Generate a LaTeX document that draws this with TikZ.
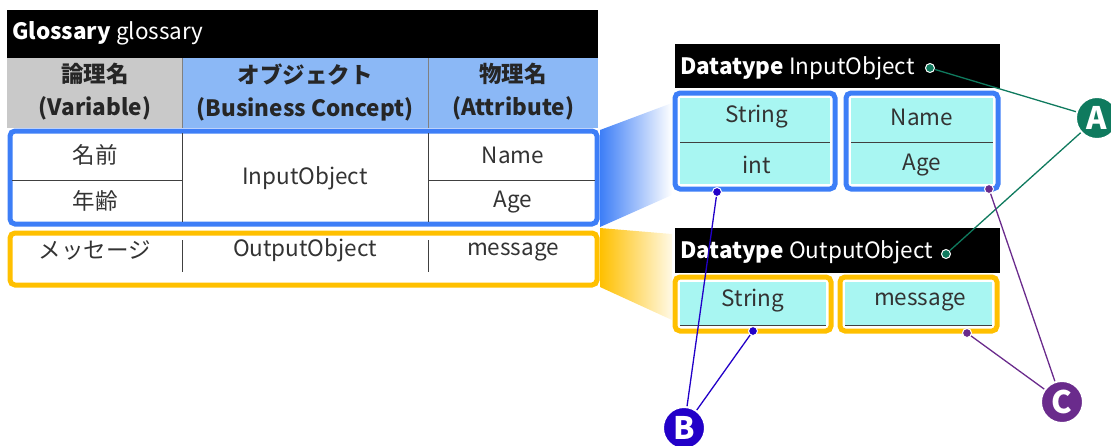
\documentclass[tikz,border=0pt]{standalone}
\usepackage{fontspec}
\setmainfont{Noto Sans CJK JP}
\usetikzlibrary{positioning}
\definecolor{boxblue}{HTML}{3D7EF7}
\definecolor{boxorange}{HTML}{FFC000}
\definecolor{fieldcyan}{HTML}{A8F6F2}
\definecolor{headgray}{HTML}{C9C9C9}
\definecolor{headblue}{HTML}{8BB8F6}
\definecolor{markgreen}{HTML}{0F7A5E}
\definecolor{markblue}{HTML}{2200C8}
\definecolor{markpurple}{HTML}{6A2B8C}

\begin{document}
\begin{tikzpicture}[x=1pt, y=-1pt,
    cell/.style={font=\fontsize{22.5}{24}\selectfont, text=black!80, inner sep=0pt},
    head/.style={font=\fontsize{22.5}{33}\selectfont\bfseries, align=center, inner sep=0pt, text=black!85},
    title/.style={font=\fontsize{22.5}{24}\selectfont, text=white, anchor=west, inner sep=0pt},
    frameblue/.style={draw=boxblue, line width=5pt, rounded corners=5pt, fill=white},
    frameorange/.style={draw=boxorange, line width=5pt, rounded corners=5pt, fill=white},
    rule/.style={draw=black!75, line width=1pt},
    dot/.style={circle, inner sep=0pt, minimum size=9pt, draw=white, line width=1pt},
    badge/.style={circle, minimum size=42pt, inner sep=0pt, draw=white, line width=2pt, text=white, font=\fontsize{31}{31}\selectfont\bfseries},
    link/.style={line width=1.3pt}
]
\useasboundingbox (0,0) rectangle (1111,445);

\shade[left color=boxblue, right color=white] (600,130) -- (672,103) -- (672,195) -- (600,227) -- cycle;
\shade[left color=boxorange, right color=boxorange!10] (600,228) -- (672,234) -- (672,320) -- (600,287) -- cycle;

\fill[black] (7,10) rectangle (598,58);
\node[title] (gtitle) at (12,33) {\textbf{Glossary} glossary};
\fill[headgray] (7,58) rectangle (182,128);
\fill[headblue] (182,58) rectangle (598,128);
\draw[rule, black!50] (182,58) -- (182,128) (428,58) -- (428,128);
\node[head] (hvar) at (95,92) {論理名\\(Variable)};
\node[head] (hobj) at (305,92) {オブジェクト\\(Business Concept)};
\node[head] (hattr) at (513,92) {物理名\\(Attribute)};

\draw[frameblue] (10,131) rectangle (597,224);
\draw[rule] (12,180) -- (182,180) (428,180) -- (595,180);
\draw[rule] (182,133) -- (182,222) (428,133) -- (428,222);
\node[cell] (lname) at (95,155) {名前};
\node[cell] (lage) at (95,201) {年齢};
\node[cell] (inobj) at (305,178) {InputObject};
\node[cell] (pname) at (513,155) {Name};
\node[cell] (page) at (513,202) {Age};

\draw[frameorange] (10,233) rectangle (597,285);
\draw[rule] (182,240) -- (182,272) (428,240) -- (428,272);
\node[cell] (lmsg) at (95,250) {メッセージ};
\node[cell] (outobj) at (305,250) {OutputObject};
\node[cell] (pmsg) at (513,252) {message};

\fill[black] (675,44) rectangle (1000,88);
\node[title] (intitle) at (680,68) {\textbf{Datatype} InputObject};
\draw[frameblue] (675,93) rectangle (835,189);
\fill[fieldcyan] (680,98) rectangle (830,184);
\draw[rule] (680,142) -- (830,142);
\draw[frameblue] (846,93) rectangle (998,189);
\fill[fieldcyan] (851,98) rectangle (993,184);
\draw[rule] (851,142) -- (993,142);
\node[cell] (intype1) at (757,117) {String};
\node[cell] (intype2) at (757,165) {int};
\node[cell] (inattr1) at (922,117) {Name};
\node[cell] (inattr2) at (922,165) {Age};

\fill[black] (675,228) rectangle (1000,273);
\node[title] (outtitle) at (680,252) {\textbf{Datatype} OutputObject};
\draw[frameorange] (675,277) rectangle (831,331);
\fill[fieldcyan] (680,282) rectangle (826,326);
\draw[rule] (680,325) -- (826,325);
\draw[frameorange] (840,277) rectangle (997,331);
\fill[fieldcyan] (845,282) rectangle (992,326);
\draw[rule] (845,325) -- (992,325);
\node[cell] (outtype) at (753,301) {String};
\node[cell] (outattr) at (920,302) {message};

\node[dot, fill=markgreen] (dotA1) at (930,68) {};
\node[dot, fill=markgreen] (dotA2) at (946,254) {};
\node[dot, fill=markblue] (dotB1) at (717,192) {};
\node[dot, fill=markblue] (dotB2) at (753,331) {};
\node[dot, fill=markpurple] (dotC1) at (989,189) {};
\node[dot, fill=markpurple] (dotC2) at (967,333) {};
\node[badge, fill=markgreen] (badgeA) at (1097,118) {A};
\node[badge, fill=markblue] (badgeB) at (684,428) {B};
\node[badge, fill=markpurple] (badgeC) at (1062,402) {C};

\draw[link, markgreen] (dotA1) -- (badgeA);
\draw[link, markgreen] (dotA2) -- (badgeA);
\draw[link, markblue] (dotB1) -- (badgeB);
\draw[link, markblue] (dotB2) -- (badgeB);
\draw[link, markpurple] (dotC1) -- (badgeC);
\draw[link, markpurple] (dotC2) -- (badgeC);
\end{tikzpicture}
\end{document}
